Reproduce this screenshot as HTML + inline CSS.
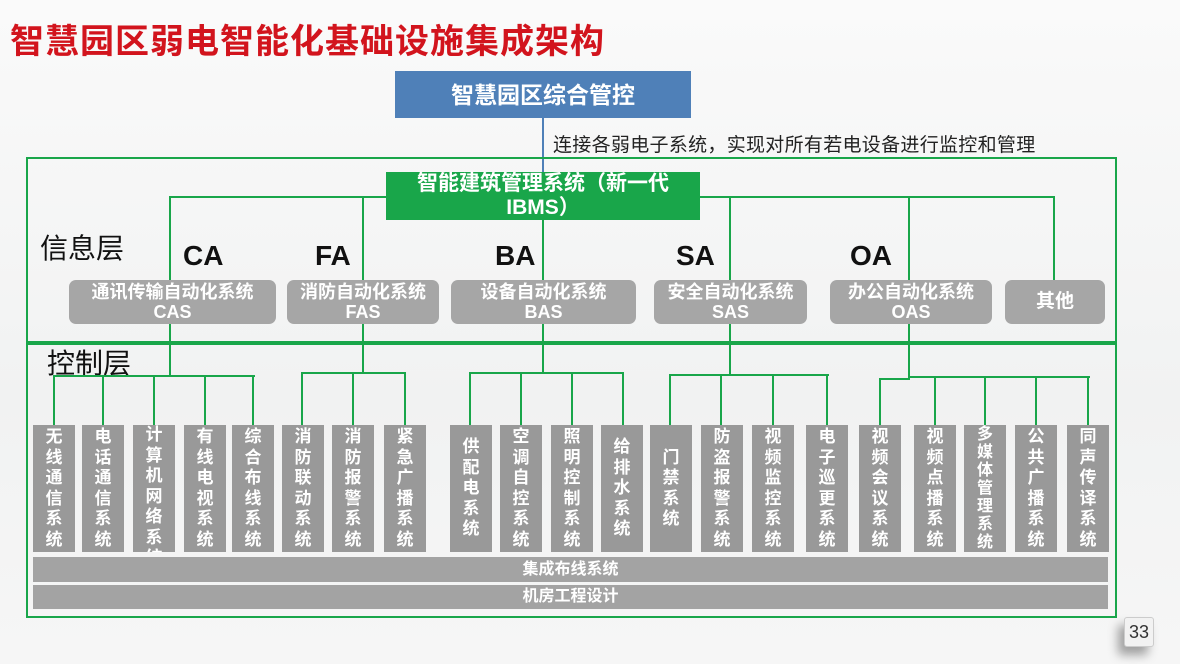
<!DOCTYPE html>
<html><head><meta charset="utf-8"><style>
body{margin:0;width:1180px;height:664px;overflow:hidden;background:linear-gradient(180deg,#fafafa,#f1f2f2 60%,#f6f6f6);font-family:"Liberation Sans","Noto Sans CJK SC",sans-serif;position:relative}
.a{position:absolute}
.g{position:absolute;background:#19a64a}
.mid{position:absolute;background:#a6a6a6;border-radius:7px;color:#fff;font-weight:bold;text-align:center;font-size:18px;line-height:20px;top:280px;height:44px;display:flex;flex-direction:column;justify-content:center}
.lab{position:absolute;font-weight:bold;font-size:28px;color:#111;top:240px}
.bx{position:absolute;top:425px;height:127px;width:42px;background:#999;color:#fff;font-weight:bold;font-size:17px;line-height:20.5px;display:flex;flex-direction:column;justify-content:center;align-items:center;text-align:center;overflow:hidden}
.bar{position:absolute;left:33px;width:1075px;background:#a3a3a3;color:#fff;font-weight:bold;font-size:16px;text-align:center}
</style></head><body>
<div class="a" style="left:10px;top:14px;font-size:34px;font-weight:bold;color:#d2141d;letter-spacing:1px">智慧园区弱电智能化基础设施集成架构</div>
<div class="a" style="left:395px;top:71px;width:296px;height:47px;background:#4f80b8;color:#fff;font-weight:bold;font-size:23px;line-height:49px;text-align:center">智慧园区综合管控</div>
<div class="a" style="left:542px;top:118px;width:2px;height:55px;background:#4f80b8"></div>
<div class="a" style="left:553px;top:130px;font-size:19px;color:#222;letter-spacing:0.3px">连接各弱电子系统，实现对所有若电设备进行监控和管理</div>
<div class="a" style="left:26px;top:157px;width:1087px;height:457px;border:2px solid #19a64a"></div>
<div class="g" style="left:26px;top:341px;width:1091px;height:4px"></div>
<div class="g" style="left:170px;top:196px;width:885px;height:2px"></div>
<div class="a" style="left:386px;top:172px;width:314px;height:48px;background:#19a64a;color:#fff;font-weight:bold;font-size:21px;line-height:24px;text-align:center">智能建筑管理系统（新一代<br>IBMS）</div>
<div class="g" style="left:169px;top:196px;width:2px;height:84px"></div>
<div class="g" style="left:362px;top:196px;width:2px;height:84px"></div>
<div class="g" style="left:542px;top:220px;width:2px;height:60px"></div>
<div class="g" style="left:729px;top:196px;width:2px;height:84px"></div>
<div class="g" style="left:908px;top:196px;width:2px;height:84px"></div>
<div class="g" style="left:1053px;top:196px;width:2px;height:84px"></div>
<div class="a" style="left:40px;top:227px;font-size:28px;color:#111">信息层</div>
<div class="a" style="left:47px;top:342px;font-size:28px;color:#111">控制层</div>
<div class="lab" style="left:183px">CA</div>
<div class="lab" style="left:315px">FA</div>
<div class="lab" style="left:495px">BA</div>
<div class="lab" style="left:676px">SA</div>
<div class="lab" style="left:850px">OA</div>
<div class="mid" style="left:69px;width:207px">通讯传输自动化系统<br>CAS</div>
<div class="mid" style="left:287px;width:152px">消防自动化系统<br>FAS</div>
<div class="mid" style="left:451px;width:185px">设备自动化系统<br>BAS</div>
<div class="mid" style="left:654px;width:153px">安全自动化系统<br>SAS</div>
<div class="mid" style="left:830px;width:162px">办公自动化系统<br>OAS</div>
<div class="mid" style="left:1005px;width:100px;font-size:19px">其他</div>
<div class="g" style="left:169px;top:324px;width:2px;height:53px"></div>
<div class="g" style="left:53px;top:375px;width:202px;height:2px"></div>
<div class="g" style="left:362px;top:324px;width:2px;height:50px"></div>
<div class="g" style="left:302px;top:372px;width:104px;height:2px"></div>
<div class="g" style="left:542px;top:324px;width:2px;height:50px"></div>
<div class="g" style="left:470px;top:372px;width:154px;height:2px"></div>
<div class="g" style="left:729px;top:324px;width:2px;height:52px"></div>
<div class="g" style="left:670px;top:374px;width:159px;height:2px"></div>
<div class="g" style="left:908px;top:324px;width:2px;height:56px"></div>
<div class="g" style="left:879px;top:378px;width:31px;height:2px"></div>
<div class="g" style="left:908px;top:376px;width:182px;height:2px"></div>
<div class="g" style="left:53px;top:375px;width:2px;height:50px"></div>
<div class="g" style="left:102px;top:375px;width:2px;height:50px"></div>
<div class="g" style="left:153px;top:375px;width:2px;height:50px"></div>
<div class="g" style="left:204px;top:375px;width:2px;height:50px"></div>
<div class="g" style="left:252px;top:375px;width:2px;height:50px"></div>
<div class="g" style="left:301px;top:372px;width:2px;height:53px"></div>
<div class="g" style="left:352px;top:372px;width:2px;height:53px"></div>
<div class="g" style="left:404px;top:372px;width:2px;height:53px"></div>
<div class="g" style="left:469px;top:372px;width:2px;height:53px"></div>
<div class="g" style="left:520px;top:372px;width:2px;height:53px"></div>
<div class="g" style="left:571px;top:372px;width:2px;height:53px"></div>
<div class="g" style="left:622px;top:372px;width:2px;height:53px"></div>
<div class="g" style="left:669px;top:374px;width:2px;height:51px"></div>
<div class="g" style="left:720px;top:374px;width:2px;height:51px"></div>
<div class="g" style="left:772px;top:374px;width:2px;height:51px"></div>
<div class="g" style="left:826px;top:374px;width:2px;height:51px"></div>
<div class="g" style="left:879px;top:378px;width:2px;height:47px"></div>
<div class="g" style="left:934px;top:376px;width:2px;height:49px"></div>
<div class="g" style="left:984px;top:376px;width:2px;height:49px"></div>
<div class="g" style="left:1035px;top:376px;width:2px;height:49px"></div>
<div class="g" style="left:1087px;top:376px;width:2px;height:49px"></div>
<div class="bx" style="left:33px">无<br>线<br>通<br>信<br>系<br>统</div>
<div class="bx" style="left:82px">电<br>话<br>通<br>信<br>系<br>统</div>
<div class="bx" style="left:133px;justify-content:flex-start">计<br>算<br>机<br>网<br>络<br>系<br>统</div>
<div class="bx" style="left:184px">有<br>线<br>电<br>视<br>系<br>统</div>
<div class="bx" style="left:232px">综<br>合<br>布<br>线<br>系<br>统</div>
<div class="bx" style="left:282px">消<br>防<br>联<br>动<br>系<br>统</div>
<div class="bx" style="left:332px">消<br>防<br>报<br>警<br>系<br>统</div>
<div class="bx" style="left:384px">紧<br>急<br>广<br>播<br>系<br>统</div>
<div class="bx" style="left:450px">供<br>配<br>电<br>系<br>统</div>
<div class="bx" style="left:500px">空<br>调<br>自<br>控<br>系<br>统</div>
<div class="bx" style="left:551px">照<br>明<br>控<br>制<br>系<br>统</div>
<div class="bx" style="left:601px">给<br>排<br>水<br>系<br>统</div>
<div class="bx" style="left:650px">门<br>禁<br>系<br>统</div>
<div class="bx" style="left:701px">防<br>盗<br>报<br>警<br>系<br>统</div>
<div class="bx" style="left:752px">视<br>频<br>监<br>控<br>系<br>统</div>
<div class="bx" style="left:806px">电<br>子<br>巡<br>更<br>系<br>统</div>
<div class="bx" style="left:859px">视<br>频<br>会<br>议<br>系<br>统</div>
<div class="bx" style="left:914px">视<br>频<br>点<br>播<br>系<br>统</div>
<div class="bx" style="left:964px;font-size:16px;line-height:18px">多<br>媒<br>体<br>管<br>理<br>系<br>统</div>
<div class="bx" style="left:1015px">公<br>共<br>广<br>播<br>系<br>统</div>
<div class="bx" style="left:1067px">同<br>声<br>传<br>译<br>系<br>统</div>
<div class="bar" style="top:557px;height:25px;line-height:25px">集成布线系统</div>
<div class="bar" style="top:585px;height:24px;line-height:24px">机房工程设计</div>
<div class="a" style="left:1124px;top:617px;width:28px;height:28px;background:#f2f2f2;border:1px solid #ccc;border-radius:3px;font-size:18px;line-height:28px;text-align:center;color:#333;box-shadow:-6px 8px 10px rgba(0,0,0,0.35)">33</div>
</body></html>
